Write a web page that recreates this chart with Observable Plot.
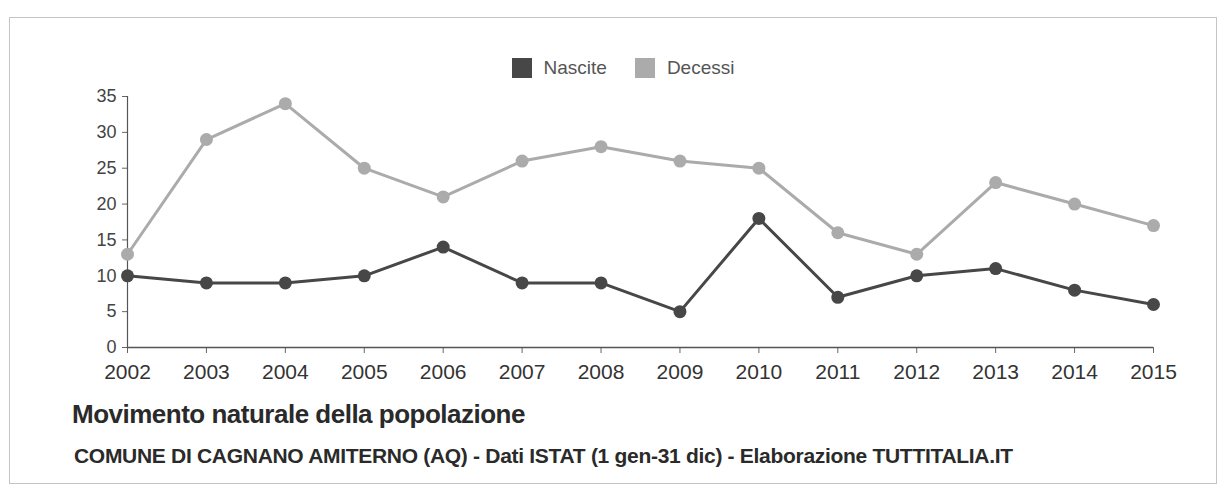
<!DOCTYPE html>
<html><head><meta charset="utf-8">
<script src="https://cdn.jsdelivr.net/npm/d3@7"></script>
<script src="https://cdn.jsdelivr.net/npm/@observablehq/plot@0.6"></script>
<style>
html,body{margin:0;padding:0;background:#fff;width:1226px;height:491px;overflow:hidden;font-family:"Liberation Sans",Arial,sans-serif;}
#frame{position:absolute;left:9px;top:17px;width:1208px;height:467px;border:1px solid #c4c4c4;box-sizing:border-box;}
#legend{position:absolute;left:10px;width:1226px;top:57px;text-align:center;font-size:19px;color:#555;line-height:22px;}
#legend span.sw{display:inline-block;width:20px;height:20px;vertical-align:-4px;margin-right:12px;}
#legend span.it{margin:0 14px;}
#chart{position:absolute;left:0;top:85px;}
#title{position:absolute;left:72px;top:399px;font-size:26px;font-weight:bold;color:#2a2a2a;letter-spacing:-0.5px;white-space:nowrap;}
#sub{position:absolute;left:74px;top:444px;font-size:21px;font-weight:bold;color:#2a2a2a;letter-spacing:-0.3px;white-space:nowrap;}
</style></head>
<body>
<div id="frame"></div>
<div id="legend"></div>
<div id="chart"></div>
<div id="title">Movimento naturale della popolazione</div>
<div id="sub">COMUNE DI CAGNANO AMITERNO (AQ) - Dati ISTAT (1 gen-31 dic) - Elaborazione TUTTITALIA.IT</div>
<script>
const years = [2002,2003,2004,2005,2006,2007,2008,2009,2010,2011,2012,2013,2014,2015];
const nascite = [10,9,9,10,14,9,9,5,18,7,10,11,8,6];
const decessi = [13,29,34,25,21,26,28,26,25,16,13,23,20,17];
const seriesNames = ["Nascite","Decessi"];
const seriesColors = ["#474747","#ababab"];
const yTicks = [0,5,10,15,20,25,30,35];

const data = [];
years.forEach((y,i)=>{
  data.push({year:y, value:nascite[i], serie:seriesNames[0]});
  data.push({year:y, value:decessi[i], serie:seriesNames[1]});
});

const leg = document.getElementById("legend");
seriesNames.forEach((n,i)=>{
  const it = document.createElement("span");
  it.className="it";
  it.innerHTML = `<span class="sw" style="background:${seriesColors[i]}"></span>${n}`;
  leg.appendChild(it);
});

const chart = Plot.plot({
  width:1226, height:310,
  marginLeft:127, marginRight:73, marginTop:11, marginBottom:48,
  style:{fontFamily:"Liberation Sans, Arial, sans-serif", background:"transparent"},
  x:{domain:[2002,2015], ticks:years, tickFormat:d=>String(d), label:null},
  y:{domain:[0,35], ticks:yTicks, label:null},
  color:{domain:seriesNames, range:seriesColors},
  marks:[
    Plot.axisY({ticks:yTicks, tickSize:5, fontSize:18, fill:"#444", stroke:"#666", tickPadding:6, label:null}),
    Plot.axisX({ticks:years, tickFormat:d=>String(d), tickSize:6, fontSize:21, fill:"#333", stroke:"#666", tickPadding:11, label:null}),
    Plot.ruleX([2002],{stroke:"#555", strokeWidth:1.2}),
    Plot.ruleY([0],{stroke:"#555", strokeWidth:1.5}),
    Plot.line(data,{x:"year", y:"value", stroke:"serie", z:"serie", strokeWidth:3}),
    Plot.dot(data,{x:"year", y:"value", fill:"serie", r:6.5})
  ]
});
document.getElementById("chart").appendChild(chart);
</script>
</body></html>
